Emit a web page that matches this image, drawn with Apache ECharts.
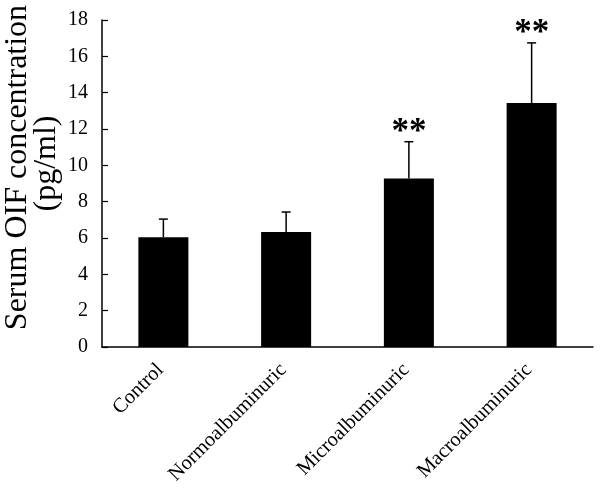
<!DOCTYPE html>
<html>
<head>
<meta charset="utf-8">
<script src="https://cdn.jsdelivr.net/npm/echarts@6/dist/echarts.min.js"></script>
<style>html,body{margin:0;padding:0;background:#fff}#c{width:600px;height:488px}</style>
</head>
<body>
<div id="c"></div>
<script>
var categories = ['Control', 'Normoalbuminuric', 'Microalbuminuric', 'Macroalbuminuric'];
var means = [6.04, 6.33, 9.28, 13.43];
var upperErrors = [7.04, 7.43, 11.30, 16.74];
var significance = ['', '', '**', '**'];
var yTicks = { min: 0, max: 18, interval: 2 };
var yTitleLines = ['Serum OIF concentration', '(pg/ml)'];

var FONT = '"Liberation Serif", "Times New Roman", serif';
var chart = echarts.init(document.getElementById('c'));

var errData = categories.map(function (c, i) { return [i, means[i], upperErrors[i], significance[i]]; });

chart.setOption({
  animation: false,
  backgroundColor: '#fff',
  grid: { left: 102, right: 7, top: 20, bottom: 141, containLabel: false },
  xAxis: {
    type: 'category',
    data: categories,
    axisLine: { lineStyle: { color: '#000', width: 1.5 } },
    axisTick: { inside: true, length: 7, lineStyle: { color: '#000', width: 1.2 } },
    axisLabel: { rotate: 45, margin: 17, color: '#000', fontFamily: FONT, fontSize: 20.5, interval: 0, padding: [0, 4, 0, 0] }
  },
  yAxis: {
    type: 'value',
    min: yTicks.min, max: yTicks.max, interval: yTicks.interval,
    axisLine: { show: true, lineStyle: { color: '#000', width: 1.5 } },
    axisTick: { show: true, inside: true, length: 6, lineStyle: { color: '#000', width: 1.2 } },
    splitLine: { show: false },
    axisLabel: { margin: 14, color: '#000', fontFamily: FONT, fontSize: 20 }
  },
  graphic: [
    {
      type: 'text',
      rotation: Math.PI / 2,
      x: 17.5, y: 167.5,
      style: { text: yTitleLines[0], font: '32px ' + FONT, fill: '#000', align: 'center', verticalAlign: 'middle' }
    },
    {
      type: 'text',
      rotation: Math.PI / 2,
      x: 47, y: 163.5,
      style: { text: yTitleLines[1], font: '32px ' + FONT, fill: '#000', align: 'center', verticalAlign: 'middle' }
    }
  ],
  series: [
    {
      type: 'bar',
      data: means,
      barWidth: 50,
      itemStyle: { color: '#000' }
    },
    {
      type: 'custom',
      data: errData,
      z: 5,
      renderItem: function (params, api) {
        var x = api.value(0);
        var base = api.coord([x, api.value(1)]);
        var top = api.coord([x, api.value(2)]);
        var children = [
          { type: 'line', shape: { x1: base[0], y1: base[1], x2: top[0], y2: top[1] }, style: { stroke: '#000', lineWidth: 1.5 } },
          { type: 'line', shape: { x1: top[0] - 4.5, y1: top[1], x2: top[0] + 4.5, y2: top[1] }, style: { stroke: '#000', lineWidth: 1.5 } }
        ];
        var sig = api.value(3);
        if (sig) {
          children.push({
            type: 'text', x: top[0], y: top[1] + 9,
            style: { text: sig, font: 'bold 35px ' + FONT, fill: '#000', align: 'center', verticalAlign: 'bottom' }
          });
        }
        return { type: 'group', children: children };
      }
    }
  ]
});
</script>
</body>
</html>
